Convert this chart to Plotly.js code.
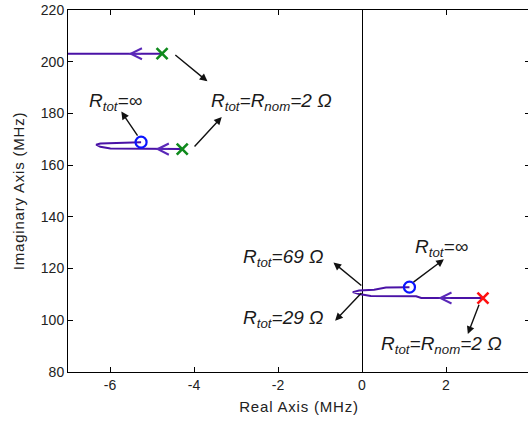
<!DOCTYPE html>
<html>
<head>
<meta charset="utf-8">
<script src="https://cdn.plot.ly/plotly-3.0.1.min.js"></script>
<style>
  html, body { margin: 0; padding: 0; overflow: hidden; background: #fff; }
  #chart { width: 530px; height: 421px; }
  .xtitle, .ytitle { letter-spacing: 0.8px; }
</style>
</head>
<body>
<div id="chart"></div>
<script>
// Root locus branches (real part in MHz, imaginary part in MHz)
const upperBranchRe = [-4.76, -7.2];
const upperBranchIm = [203.1, 203.1];

const middleBranchRe = [-4.28, -5.99, -6.23, -6.33, -6.23, -5.64, -5.40, -5.26];
const middleBranchIm = [166.2, 166.4, 167.1, 167.9, 168.4, 168.6, 168.8, 168.9];

const lowerBranchRe = [2.88, 1.41, 1.29, 0.21, -0.07, -0.22, -0.07, 0.29, 0.57, 1.13];
const lowerBranchIm = [108.6, 108.6, 109.3, 109.4, 110.2, 110.9, 111.5, 111.8, 112.7, 112.8];

// Poles at nominal resistance (stable: green, unstable: red)
const stablePoleRe = [-4.76, -4.28];
const stablePoleIm = [203.1, 166.2];
const unstablePoleRe = [2.88];
const unstablePoleIm = [108.6];

// End points for infinite resistance
const endPointRe = [-5.26, 1.13];
const endPointIm = [168.9, 112.8];

// Direction of travel along each branch
const directionRe = [-5.56, -4.92, 1.81];
const directionIm = [203.1, 166.2, 108.6];

// Axis ticks
const xTickVals = [-6, -4, -2, 0, 2, 4];
const xTickText = ['-6', '-4', '-2', '0', '2', '4'];
const yTickVals = [80, 100, 120, 140, 160, 180, 200, 220];

const locusColor = '#4a12a6';
const textFont = { family: 'Liberation Sans, Arial, sans-serif', size: 19, color: '#1a1a1a' };

function branch(re, im) {
  return { x: re, y: im, type: 'scatter', mode: 'lines',
           line: { color: locusColor, width: 2 }, hoverinfo: 'skip' };
}

const traces = [
  branch(upperBranchRe, upperBranchIm),
  branch(middleBranchRe, middleBranchIm),
  branch(lowerBranchRe, lowerBranchIm),
  { x: endPointRe, y: endPointIm, type: 'scatter', mode: 'markers',
    marker: { symbol: 'circle-open', size: 11, color: '#0a14ff', line: { color: '#0a14ff', width: 2.2 } } },
  { x: stablePoleRe, y: stablePoleIm, type: 'scatter', mode: 'markers',
    marker: { symbol: 'x-thin-open', size: 11, color: '#0f8a1c', line: { color: '#0f8a1c', width: 2.6 } } },
  { x: unstablePoleRe, y: unstablePoleIm, type: 'scatter', mode: 'markers',
    marker: { symbol: 'x-thin-open', size: 11, color: '#ff1010', line: { color: '#ff1010', width: 2.6 } } }
];

const R = '<i>R<sub>tot</sub>=</i>';
const RN = '<i>R<sub>tot</sub>=R<sub>nom</sub>=2 Ω</i>';

function label(x, y, text) {
  return { x: x, y: y, xref: 'x', yref: 'y', text: text, showarrow: false,
           font: textFont, xanchor: 'center', yanchor: 'middle' };
}
function pointer(tx, ty, hx, hy) {
  return { x: hx, y: hy, ax: tx, ay: ty, xref: 'x', yref: 'y', axref: 'x', ayref: 'y',
           text: '', showarrow: true, arrowhead: 2, arrowsize: 1.1, arrowwidth: 1.4,
           arrowcolor: '#111', standoff: 0, startstandoff: 0 };
}
// Open chevron showing the direction of travel, pointing toward decreasing real part
function chevron(x, y) {
  return { x: x, y: y, xref: 'x', yref: 'y', ax: 14, ay: 0,
           text: '', showarrow: true, arrowhead: 5, arrowsize: 1.45, arrowwidth: 1.5,
           arrowcolor: '#5a28b8', standoff: 0, startstandoff: 0 };
}

const annotations = [
  label(-5.87, 184.3, R + '<i>∞</i>'),
  label(-2.15, 184.3, RN),
  label(-1.86, 123.9, R + '<i>69 Ω</i>'),
  label(-1.86, 100.5, R + '<i>29 Ω</i>'),
  label(1.89, 128.0, R + '<i>∞</i>'),
  label(1.89, 90.6, RN),
  pointer(-4.48, 203.1, -3.68, 192.4),
  pointer(-4.02, 166.6, -3.34, 178.6),
  pointer(-5.32, 170.8, -5.73, 180.7),
  pointer(0.02, 113.0, -0.68, 122.3),
  pointer(0.02, 111.1, -0.64, 99.8),
  pointer(1.19, 114.3, 1.95, 123.6),
  pointer(2.80, 106.6, 2.52, 94.7)
].concat(directionRe.map((x, i) => chevron(x, directionIm[i])));

const axisFont = { family: 'Liberation Sans, Arial, sans-serif', size: 14, color: '#222' };
const titleFont = { family: 'Liberation Sans, Arial, sans-serif', size: 15, color: '#222' };

const layout = {
  width: 530, height: 421,
  margin: { l: 68, r: 0, t: 10, b: 49 },
  paper_bgcolor: '#fff', plot_bgcolor: '#fff',
  showlegend: false,
  font: axisFont,
  xaxis: {
    range: [-7, 4], tickvals: xTickVals, ticktext: xTickText,
    showgrid: false, zeroline: true, zerolinecolor: '#000', zerolinewidth: 1,
    showline: true, linecolor: '#000', linewidth: 1, mirror: 'ticks',
    ticks: 'inside', ticklen: 5, tickcolor: '#000', tickfont: axisFont,
    title: { text: 'Real Axis (MHz)', font: titleFont, standoff: 9 }
  },
  yaxis: {
    range: [80, 220], tickvals: yTickVals,
    showgrid: false, zeroline: false,
    showline: true, linecolor: '#000', linewidth: 1, mirror: 'ticks',
    ticks: 'inside', ticklen: 5, tickcolor: '#000', tickfont: axisFont,
    title: { text: 'Imaginary Axis (MHz)', font: titleFont, standoff: 12 }
  },
  annotations: annotations
};

Plotly.newPlot('chart', traces, layout, { displayModeBar: false, staticPlot: true });
</script>
</body>
</html>
